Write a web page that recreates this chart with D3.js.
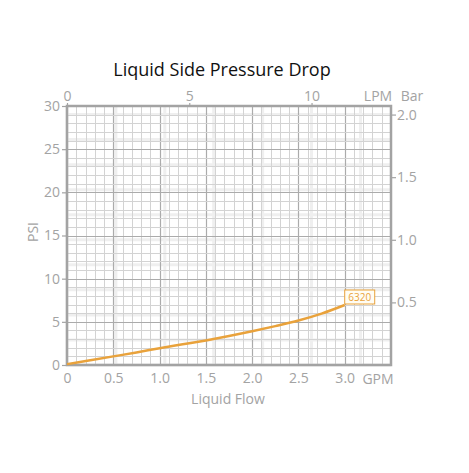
<!DOCTYPE html>
<html>
<head>
<meta charset="utf-8">
<script src="https://cdn.jsdelivr.net/npm/d3@7"></script>
<style>
  body { margin: 0; background: #fff; }
  text { font-family: "Open Sans", "Noto Sans", sans-serif; }
</style>
</head>
<body>
<div id="chart"></div>
<script>
// data
var flowGpm = [0, 0.25, 0.5, 0.75, 1.0, 1.25, 1.5, 1.75, 2.0, 2.25, 2.5, 2.75, 3.0];
var psi6320 = [0.1, 0.55, 1.0, 1.45, 1.95, 2.4, 2.85, 3.35, 3.9, 4.5, 5.15, 5.95, 6.95];
var seriesName = "6320";
var gpmTicks = [0, 0.5, 1.0, 1.5, 2.0, 2.5, 3.0];
var gpmTickLabels = ["0", "0.5", "1.0", "1.5", "2.0", "2.5", "3.0"];
var psiTicks = [0, 5, 10, 15, 20, 25, 30];
var lpmTicks = [0, 5, 10];
var barTicks = [0.5, 1.0, 1.5, 2.0];

var LPM_PER_GPM = 3.78541;
var PSI_PER_BAR = 14.5038;

var W = 469, H = 473;
var pLeft = 67, pRight = 391, pTop = 106, pBottom = 365;
var grey = "#a3a3a3", orange = "#e9a23b";

var svg = d3.select("#chart").append("svg")
  .attr("width", W).attr("height", H);

var x = d3.scaleLinear().domain([0, 3.5]).range([pLeft, pRight]);
var y = d3.scaleLinear().domain([0, 30]).range([pBottom, pTop]);
var xl = d3.scaleLinear().domain([0, 3.5 * LPM_PER_GPM]).range([pLeft, pRight]);
var yb = d3.scaleLinear().domain([0, 30 / PSI_PER_BAR]).range([pBottom, pTop]);

var grid = svg.append("g");

// light wide lines (lpm / bar grid)
grid.selectAll("line.lv").data(d3.range(0, 3.5 * LPM_PER_GPM, 2)).enter()
  .append("line")
  .attr("x1", function(d) { return xl(d); }).attr("x2", function(d) { return xl(d); })
  .attr("y1", pTop).attr("y2", pBottom)
  .attr("stroke", "#efefef").attr("stroke-width", 3);
grid.selectAll("line.lh").data(d3.range(0, 30 / PSI_PER_BAR, 0.2)).enter()
  .append("line")
  .attr("x1", pLeft).attr("x2", pRight)
  .attr("y1", function(d) { return yb(d); }).attr("y2", function(d) { return yb(d); })
  .attr("stroke", "#efefef").attr("stroke-width", 3);

// minor gpm / psi grid
grid.selectAll("line.mv").data(d3.range(1, 35)).enter()
  .append("line")
  .attr("x1", function(d) { return Math.round(x(d / 10)) + 0.5; })
  .attr("x2", function(d) { return Math.round(x(d / 10)) + 0.5; })
  .attr("y1", pTop).attr("y2", pBottom)
  .attr("stroke", function(d) { return d % 5 == 0 ? "#ababab" : "#d3d3d3"; })
  .attr("stroke-width", function(d) { return d % 5 == 0 ? 1.2 : 1; });
grid.selectAll("line.mh").data(d3.range(1, 30)).enter()
  .append("line")
  .attr("x1", pLeft).attr("x2", pRight)
  .attr("y1", function(d) { return Math.round(y(d)) + 0.5; })
  .attr("y2", function(d) { return Math.round(y(d)) + 0.5; })
  .attr("stroke", function(d) { return d % 5 == 0 ? "#ababab" : "#d3d3d3"; })
  .attr("stroke-width", function(d) { return d % 5 == 0 ? 1.2 : 1; });

// frame
svg.append("rect")
  .attr("x", pLeft).attr("y", pTop)
  .attr("width", pRight - pLeft).attr("height", pBottom - pTop)
  .attr("fill", "none").attr("stroke", grey).attr("stroke-width", 2.5);

// axes
function styleAxis(g) {
  g.select(".domain").remove();
  g.selectAll(".tick line").attr("stroke", grey).attr("stroke-width", 1.2);
  g.selectAll(".tick text").attr("fill", grey)
    .style("font-size", "14px").style("font-family", "'Open Sans', sans-serif");
}

svg.append("g").attr("transform", "translate(" + pLeft + ",0)")
  .call(d3.axisLeft(y).tickValues(psiTicks).tickSize(5).tickPadding(2))
  .call(styleAxis);

svg.append("g").attr("transform", "translate(0," + pBottom + ")")
  .call(d3.axisBottom(x).tickValues(gpmTicks).tickSize(0).tickPadding(8)
    .tickFormat(function(d, i) { return gpmTickLabels[i]; }))
  .call(styleAxis);

svg.append("g").attr("transform", "translate(0," + pTop + ")")
  .call(d3.axisTop(xl).tickValues(lpmTicks).tickSize(3).tickPadding(2))
  .call(styleAxis);

svg.append("g").attr("transform", "translate(" + pRight + ",0)")
  .call(d3.axisRight(yb).tickValues(barTicks).tickSize(5).tickPadding(1)
    .tickFormat(d3.format(".1f")))
  .call(styleAxis);

// unit labels
function unit(tx, ty, s, anchor, size) {
  svg.append("text").attr("x", tx).attr("y", ty)
    .attr("text-anchor", anchor || "middle")
    .attr("fill", grey).style("font-size", (size || 14) + "px").text(s);
}
unit(378, 101, "LPM");
unit(412, 101, "Bar");
unit(378, 384, "GPM");
unit(228, 404, "Liquid Flow");
svg.append("text")
  .attr("transform", "translate(38,232) rotate(-90)")
  .attr("text-anchor", "middle").attr("fill", grey)
  .style("font-size", "14px").text("PSI");

// title
svg.append("text").attr("x", 222).attr("y", 76)
  .attr("text-anchor", "middle").attr("fill", "#111")
  .style("font-size", "18px").text("Liquid Side Pressure Drop");

// curve
var line = d3.line()
  .x(function(d, i) { return x(flowGpm[i]); })
  .y(function(d) { return y(d); })
  .curve(d3.curveMonotoneX);
svg.append("path").datum(psi6320)
  .attr("d", line)
  .attr("fill", "none").attr("stroke", orange).attr("stroke-width", 2.5);

// series label
var last = psi6320.length - 1;
var lx = x(flowGpm[last]), ly = y(psi6320[last]);
var lab = svg.append("g").attr("transform", "translate(" + lx + "," + (ly - 15) + ")");
lab.append("rect").attr("x", 0).attr("y", 0).attr("width", 30).attr("height", 14)
  .attr("fill", "#fffdf4").attr("stroke", orange).attr("stroke-width", 1);
lab.append("text").attr("x", 15).attr("y", 11).attr("text-anchor", "middle")
  .attr("fill", orange).style("font-size", "10px").text(seriesName);
</script>
</body>
</html>
